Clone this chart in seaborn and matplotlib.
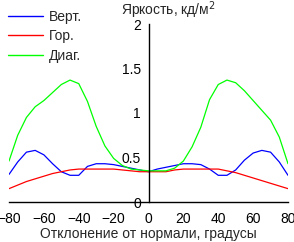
import numpy as np
import pandas as pd
import matplotlib
matplotlib.use("Agg")
import matplotlib.pyplot as plt
import seaborn as sns

# углы отклонения, градусы
angles = list(range(-80, 85, 5))

# яркость, кд/м2
vert = [0.31, 0.45, 0.56, 0.58, 0.53, 0.43, 0.34, 0.30, 0.30, 0.40, 0.43,
        0.43, 0.42, 0.40, 0.38, 0.36, 0.34, 0.37, 0.39, 0.41, 0.43, 0.43,
        0.42, 0.37, 0.30, 0.30, 0.36, 0.47, 0.55, 0.58, 0.56, 0.45, 0.30]
hor = [0.15, 0.19, 0.23, 0.26, 0.29, 0.32, 0.34, 0.36, 0.37, 0.37, 0.37,
       0.37, 0.37, 0.36, 0.35, 0.34, 0.34, 0.34, 0.34, 0.36, 0.37, 0.37,
       0.37, 0.37, 0.37, 0.35, 0.33, 0.30, 0.27, 0.24, 0.21, 0.18, 0.15]
diag = [0.46, 0.75, 0.95, 1.07, 1.14, 1.23, 1.32, 1.37, 1.33, 1.13, 0.85,
        0.63, 0.49, 0.41, 0.37, 0.36, 0.35, 0.35, 0.35, 0.38, 0.46, 0.62,
        0.84, 1.15, 1.32, 1.37, 1.34, 1.25, 1.14, 1.03, 0.92, 0.73, 0.43]

series_names = ['Верт.', 'Гор.', 'Диаг.']
series_colors = ['#0000ff', '#ff0000', '#00ff00']

df = pd.DataFrame({
    'angle': angles * 3,
    'value': vert + hor + diag,
    'series': [series_names[0]] * len(angles) + [series_names[1]] * len(angles)
              + [series_names[2]] * len(angles),
})

sns.set_style('white')
plt.rcParams['font.family'] = ['Liberation Sans', 'DejaVu Sans']
plt.rcParams['font.size'] = 10

fig = plt.figure(figsize=(2.94, 2.42), dpi=100)
ax = fig.add_axes([9 / 294, 40 / 242, 279 / 294, 178 / 242])

sns.lineplot(data=df, x='angle', y='value', hue='series',
             palette=dict(zip(series_names, series_colors)),
             linewidth=0.9, ax=ax, legend=False)

ax.set_xlim(-80, 80)
ax.set_ylim(0, 2)
ax.set_xticks(range(-80, 81, 20))
ax.set_yticks([0, 0.5, 1, 1.5, 2])
ax.set_yticklabels(['0', '0.5', '1', '1.5', '2'])
ax.set_xlabel('')
ax.set_ylabel('')

for s in ['top', 'right']:
    ax.spines[s].set_visible(False)
ax.spines['left'].set_position(('data', 0))
ax.spines['bottom'].set_position(('data', 0))
for s in ['left', 'bottom']:
    ax.spines[s].set_color('black')
    ax.spines[s].set_linewidth(1)
ax.tick_params(axis='both', direction='out', length=3, width=1, color='black',
               labelsize=10, labelcolor='black')
ax.tick_params(axis='y', pad=2.5)
ax.tick_params(axis='x', pad=4)
ax.patch.set_alpha(0)

# легенда
handles = [plt.Line2D([], [], color=c, lw=1) for c in series_colors]
fig.legend(handles, series_names, loc='upper left', bbox_to_anchor=(0.0, 0.995),
           frameon=False, fontsize=10, handlelength=2.5, handletextpad=0.4,
           labelspacing=0.4, borderaxespad=0.2)

fig.text(168 / 294, 1 - 10 / 242, 'Яркость, кд/м$^2$', ha='center', va='center', fontsize=10)
fig.text(148 / 294, 1 - 234 / 242, 'Отклонение от нормали, градусы', ha='center', va='center', fontsize=10)

fig.savefig('out.png', dpi=100)
